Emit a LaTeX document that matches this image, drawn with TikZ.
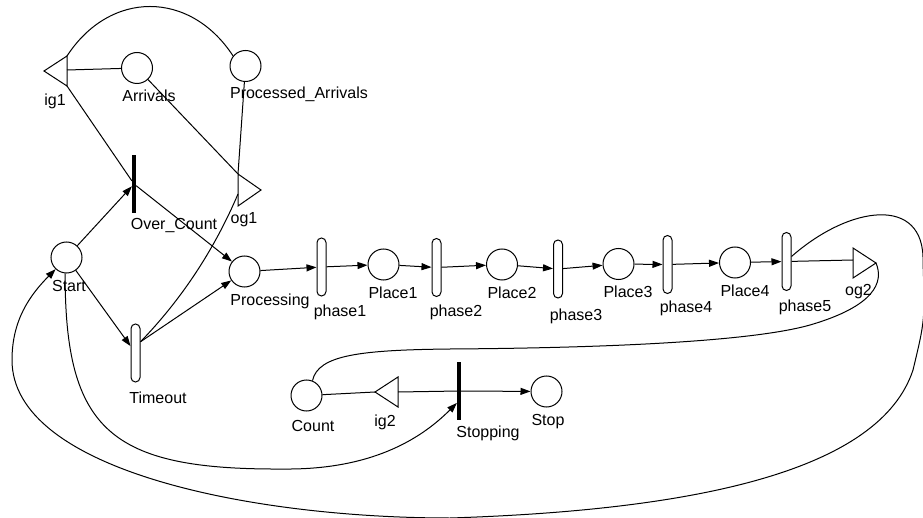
\documentclass[tikz,border=0pt]{standalone}
\usepackage{fontspec}
\setmainfont{Liberation Sans}
\usetikzlibrary{arrows.meta}

\begin{document}
\begin{tikzpicture}[x=1pt,y=-1pt,>={Triangle[length=10pt,width=7pt]},line width=1pt,
  place/.style={circle,draw,minimum size=31pt,inner sep=0pt},
  timed/.style={rectangle,draw,rounded corners=4.5pt,minimum width=9pt,minimum height=58pt,inner sep=0pt},
  instant/.style={rectangle,fill=black,minimum width=3.2pt,minimum height=58pt,inner sep=0pt},
  lbl/.style={font=\fontsize{16}{19}\selectfont,anchor=base,inner sep=0pt}]
\useasboundingbox (0,0) rectangle (923,518);

% places
\node[place] (Arrivals) at (137,68) {};
\node[place] (Processed) at (245.5,66) {};
\node[place] (Start) at (66.5,257.5) {};
\node[place] (Processing) at (244.5,271.5) {};
\node[place] (Place1) at (383.5,264.5) {};
\node[place] (Place2) at (502,264.5) {};
\node[place] (Place3) at (618.5,264) {};
\node[place] (Place4) at (735,262.5) {};
\node[place] (Count) at (306.5,395.5) {};
\node[place] (Stop) at (546.5,391.5) {};

% activities
\node[instant] (OverCount) at (134,184) {};
\node[instant] (Stopping) at (459,391) {};
\node[timed] (Timeout) at (135.5,353) {};
\node[timed] (phase1) at (321.5,267) {};
\node[timed] (phase2) at (436.5,267.5) {};
\node[timed] (phase3) at (558,269) {};
\node[timed] (phase4) at (667.5,264.5) {};
\node[timed] (phase5) at (786.5,261.5) {};

% gates: apex, base corners, point on the base
\draw (44,71) coordinate (ig1) -- (67,56) coordinate (ig1-top) -- (67,86) coordinate (ig1-bot) -- cycle;
\coordinate (ig1-base) at (67,70);
\draw (261,190) coordinate (og1) -- (238,174) coordinate (og1-top) -- (238,206) coordinate (og1-bot) -- cycle;
\coordinate (og1-base) at (238,194);
\draw (876,263) coordinate (og2) -- (853,248) coordinate (og2-top) -- (853,278) coordinate (og2-bot) -- cycle;
\coordinate (og2-base) at (853,260);
\draw (375,392) coordinate (ig2) -- (398,377) coordinate (ig2-top) -- (398,407) coordinate (ig2-bot) -- cycle;
\coordinate (ig2-base) at (398,392);

% names
\node[lbl] (ig1-l) at (55,106) {ig1};
\node[lbl] (Arrivals-l) at (149,102) {Arrivals};
\node[lbl] (Processed-l) at (299,99) {Processed\_Arrivals};
\node[lbl] (OverCount-l) at (174,230) {Over\_Count};
\node[lbl] (og1-l) at (244,224) {og1};
\node[lbl] (Start-l) at (69,292) {Start};
\node[lbl] (Timeout-l) at (158,403) {Timeout};
\node[lbl] (Processing-l) at (270,306) {Processing};
\node[lbl] (phase1-l) at (340,317) {phase1};
\node[lbl] (Place1-l) at (393,299) {Place1};
\node[lbl] (phase2-l) at (456,317) {phase2};
\node[lbl] (Place2-l) at (512,299) {Place2};
\node[lbl] (phase3-l) at (576,320) {phase3};
\node[lbl] (Place3-l) at (628,298) {Place3};
\node[lbl] (phase4-l) at (686,313) {phase4};
\node[lbl] (Place4-l) at (745,297) {Place4};
\node[lbl] (phase5-l) at (805,312) {phase5};
\node[lbl] (og2-l) at (858.5,296) {og2};
\node[lbl] (Count-l) at (313,431) {Count};
\node[lbl] (ig2-l) at (385,426) {ig2};
\node[lbl] (Stopping-l) at (488,437) {Stopping};
\node[lbl] (Stop-l) at (548,425) {Stop};

% gate arcs
\draw (Arrivals) -- (ig1-base);
\draw (ig1-bot) -- (OverCount);
\draw (ig1-top) .. controls (110,-10) and (190,-10) .. (Processed.141);
\draw (Arrivals) -- (og1-top);
\draw (Processed) -- (og1-top);
\draw (Timeout.66) .. controls (181.7,299.2) and (214.3,249.6) .. (og1-base);

\draw[->] (Start) -- (OverCount);
\draw[->] (Start) -- (Timeout);
\draw[->] (OverCount) -- (Processing);
\draw[->] (Timeout.66) -- (Processing);

% the phase chain
\draw[->] (Processing) -- (phase1);
\draw[->] (phase1) -- (Place1);
\draw[->] (Place1) -- (phase2);
\draw[->] (phase2) -- (Place2);
\draw[->] (Place2) -- (phase3);
\draw[->] (phase3) -- (Place3);
\draw[->] (Place3) -- (phase4);
\draw[->] (phase4) -- (Place4);
\draw[->] (Place4) -- (phase5);
\draw (phase5) -- (og2-base);

% long loop back to Start
\draw[->] (phase5.45) .. controls (850,205) and (925,195) .. (923,262)
  .. controls (925,320) .. (913,370)
  .. controls (880,470) and (700,510) .. (450,518)
  .. controls (250,518) and (12,470) .. (12,360)
  .. controls (12,320) and (30,295) .. (Start.227);

\draw (og2) .. controls (884,282) and (875,306) .. (810,325)
  .. controls (750,342) and (600,348) .. (450,349)
  .. controls (360,350) and (318,355) .. (Count.68);

\draw[->] (Start.265) .. controls (65,430) and (110,470) .. (283,469)
  .. controls (370,470) and (420,440) .. (Stopping.260);

\draw (Count) -- (ig2);
\draw (ig2-base) -- (Stopping);
\draw[->] (Stopping) -- (Stop);
\end{tikzpicture}
\end{document}
